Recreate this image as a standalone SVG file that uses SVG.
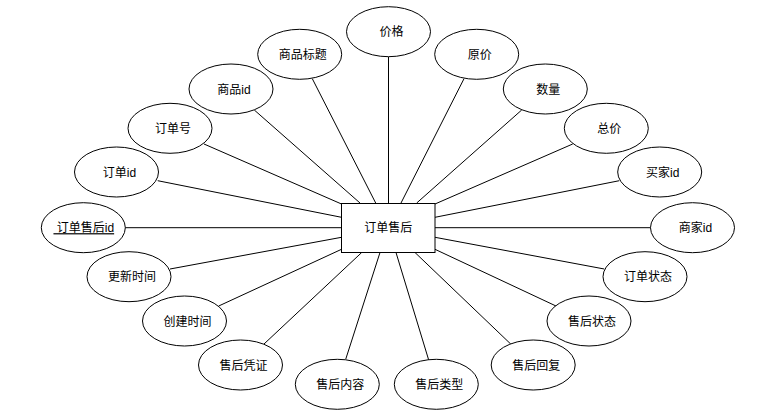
<svg xmlns="http://www.w3.org/2000/svg" width="781" height="418" viewBox="0 0 781 418">
<style>
.a{fill:#fff;stroke:#000;stroke-width:1}
.c line{stroke:#000;stroke-width:1}
text{font-family:"Liberation Sans","Noto Sans CJK SC",sans-serif;font-size:12px;fill:#000;text-anchor:middle}
</style>
<rect width="781" height="418" fill="#fff"/>
<g class="c" id="connectors">
<line x1="388.5" y1="56.7" x2="388.5" y2="203"/>
<line x1="312.3" y1="78.7" x2="375.7" y2="203"/>
<line x1="254.3" y1="110" x2="360" y2="203"/>
<line x1="204" y1="144" x2="341.5" y2="204"/>
<line x1="157.7" y1="180.7" x2="341.5" y2="217.3"/>
<line x1="125" y1="227.7" x2="341.5" y2="227.7"/>
<line x1="170" y1="269" x2="341.5" y2="237.3"/>
<line x1="218.7" y1="306" x2="341.5" y2="249.3"/>
<line x1="264" y1="344" x2="361.7" y2="252.5"/>
<line x1="345.7" y1="359.3" x2="380" y2="252.5"/>
<line x1="428.7" y1="360" x2="396" y2="252.5"/>
<line x1="510.7" y1="344" x2="415" y2="252.5"/>
<line x1="556" y1="306" x2="435" y2="249.3"/>
<line x1="604.3" y1="269" x2="435" y2="237.3"/>
<line x1="435" y1="227.7" x2="650.7" y2="227.7"/>
<line x1="619.3" y1="180.7" x2="435" y2="217.3"/>
<line x1="572.7" y1="144" x2="435" y2="204"/>
<line x1="521.7" y1="110" x2="416.7" y2="203"/>
<line x1="464" y1="78.7" x2="401" y2="203"/>
</g>
<g id="entity"><rect class="a" x="341.5" y="203.5" width="93.5" height="49"/><text x="388.3" y="232">订单售后</text></g>
<g id="n-jiage"><ellipse class="a" cx="388.5" cy="31.7" rx="42" ry="25"/><text x="391.5" y="36.2">价格</text></g>
<g id="n-biaoti"><ellipse class="a" cx="299.7" cy="54.3" rx="42" ry="25"/><text x="302.7" y="58.8">商品标题</text></g>
<g id="n-spid"><ellipse class="a" cx="231" cy="89" rx="42" ry="25"/><text x="234" y="93.5">商品id</text></g>
<g id="n-ddh"><ellipse class="a" cx="170" cy="128.3" rx="42" ry="25"/><text x="173" y="132.8">订单号</text></g>
<g id="n-ddid"><ellipse class="a" cx="116.5" cy="172" rx="42" ry="25"/><text x="119.5" y="176.5">订单id</text></g>
<g id="n-shid"><ellipse class="a" cx="83.3" cy="227.7" rx="42" ry="25"/><text x="83.8" y="232.2" text-decoration="underline">&#160;订单售后id</text></g>
<g id="n-gxsj"><ellipse class="a" cx="129" cy="276.7" rx="42" ry="25"/><text x="132" y="281.2">更新时间</text></g>
<g id="n-cjsj"><ellipse class="a" cx="184.5" cy="321" rx="42" ry="25"/><text x="187.5" y="325.5">创建时间</text></g>
<g id="n-pz"><ellipse class="a" cx="240.5" cy="365" rx="42" ry="25"/><text x="243.5" y="369.5">售后凭证</text></g>
<g id="n-nr"><ellipse class="a" cx="337.3" cy="384.3" rx="42" ry="25"/><text x="340.3" y="388.8">售后内容</text></g>
<g id="n-lx"><ellipse class="a" cx="436.3" cy="384.3" rx="42" ry="25"/><text x="439.3" y="388.8">售后类型</text></g>
<g id="n-hf"><ellipse class="a" cx="533.2" cy="365" rx="42" ry="25"/><text x="536.2" y="369.5">售后回复</text></g>
<g id="n-shzt"><ellipse class="a" cx="589" cy="321" rx="42" ry="25"/><text x="592" y="325.5">售后状态</text></g>
<g id="n-ddzt"><ellipse class="a" cx="645" cy="276.7" rx="42" ry="25"/><text x="648" y="281.2">订单状态</text></g>
<g id="n-sjid"><ellipse class="a" cx="692.5" cy="227.7" rx="42" ry="25"/><text x="695.5" y="232.2">商家id</text></g>
<g id="n-mjid"><ellipse class="a" cx="659.7" cy="172" rx="42" ry="25"/><text x="662.7" y="176.5">买家id</text></g>
<g id="n-zj"><ellipse class="a" cx="606.3" cy="128.3" rx="42" ry="25"/><text x="609.3" y="132.8">总价</text></g>
<g id="n-sl"><ellipse class="a" cx="545.3" cy="89" rx="42" ry="25"/><text x="548.3" y="93.5">数量</text></g>
<g id="n-yj"><ellipse class="a" cx="476.7" cy="54.3" rx="42" ry="25"/><text x="479.7" y="58.8">原价</text></g>
</svg>
